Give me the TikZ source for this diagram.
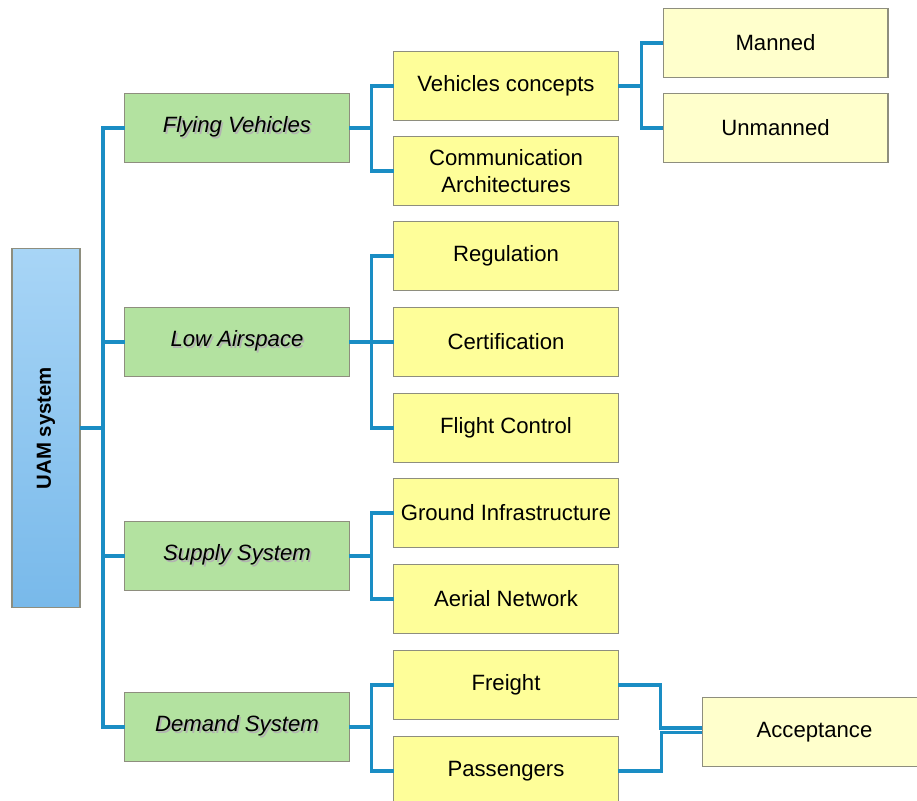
\documentclass[tikz,border=0pt]{standalone}
\usepackage{fontspec}
\setmainfont{Liberation Sans}
\usetikzlibrary{positioning}
\definecolor{uTop}{HTML}{A8D5F6}
\definecolor{uBot}{HTML}{78B9EA}
\definecolor{gBox}{HTML}{B3E2A0}
\definecolor{yBox}{HTML}{FEFE99}
\definecolor{pBox}{HTML}{FFFFCC}
\definecolor{bLine}{HTML}{1A8DC4}
\definecolor{edge}{HTML}{8E8E7E}
\newcommand{\shtext}[1]{\makebox[0pt][l]{\textcolor{black!30}{\kern1pt\raisebox{-1.2pt}{#1}}}#1}

\begin{document}
\begin{tikzpicture}[x=0.02cm, y=-0.02cm,
      every node/.style={font=\fontsize{12.6}{15}\selectfont},
      box/.style={draw=edge, line width=0.6pt, minimum width=4.5cm, minimum height=1.37cm,
        inner sep=1pt, align=center, outer sep=0pt},
      top/.style={box, fill=gBox, font=\fontsize{12.6}{15}\selectfont\itshape},
      sub/.style={box, fill=yBox},
      leaf/.style={box, fill=pBox},
      link/.style={bLine, line width=2pt}]
    \useasboundingbox (0,0) rectangle (917,801);
    \node[draw=edge, line width=0.6pt, top color=uTop, bottom color=uBot,
      minimum width=1.36cm, minimum height=7.2cm, outer sep=0pt] (uam) at (46,428) {};
    \node[rotate=90, font=\fontsize{11.6}{14}\selectfont\bfseries] at (uam) {UAM system};
    % first level
    \node[top] (fly) at (237,128) {\shtext{Flying Vehicles}};
    \node[top] (low) at (237,342) {\shtext{Low Airspace}};
    \node[top] (sup) at (237,556) {\shtext{Supply System}};
    \node[top] (dem) at (237,727) {\shtext{Demand System}};
    % second level
    \node[sub] (veh) at (506,86)  {Vehicles concepts};
    \node[sub] (com) at (506,171) {Communication\\Architectures};
    \node[sub] (reg) at (506,256) {Regulation};
    \node[sub] (cer) at (506,342) {Certification};
    \node[sub] (flc) at (506,428) {Flight Control};
    \node[sub] (gro) at (506,513) {Ground Infrastructure};
    \node[sub] (aer) at (506,599) {Aerial Network};
    \node[sub] (fre) at (506,685) {Freight};
    \node[sub] (pas) at (506,771) {Passengers};
    % third level
    \node[leaf] (man) at (775.5,43)  {Manned};
    \node[leaf] (unm) at (775.5,128) {Unmanned};
    \node[leaf] (acc) at (814.5,732) {Acceptance};
    % connectors
    \coordinate (t0) at (103,428);
    \draw[link] (uam.east) -- (t0);
    \foreach \n in {fly,low,sup,dem} \draw[link] (t0) |- (\n.west);
    \foreach \a/\b in {fly/veh, fly/com, low/reg, low/cer, low/flc,
                       sup/gro, sup/aer, dem/fre, dem/pas}
      \draw[link] (\a.east) -- ++(22,0) |- (\b.west);
    \foreach \b in {man,unm} \draw[link] (veh.east) -- ++(23,0) |- (\b.west);
    \draw[link] (fre.east) -- ++(42,0) |- ([yshift=2.2pt]acc.west);
    \draw[link] (pas.east) -- ++(43,0) |- ([yshift=-0.4pt]acc.west);
\end{tikzpicture}
\end{document}
